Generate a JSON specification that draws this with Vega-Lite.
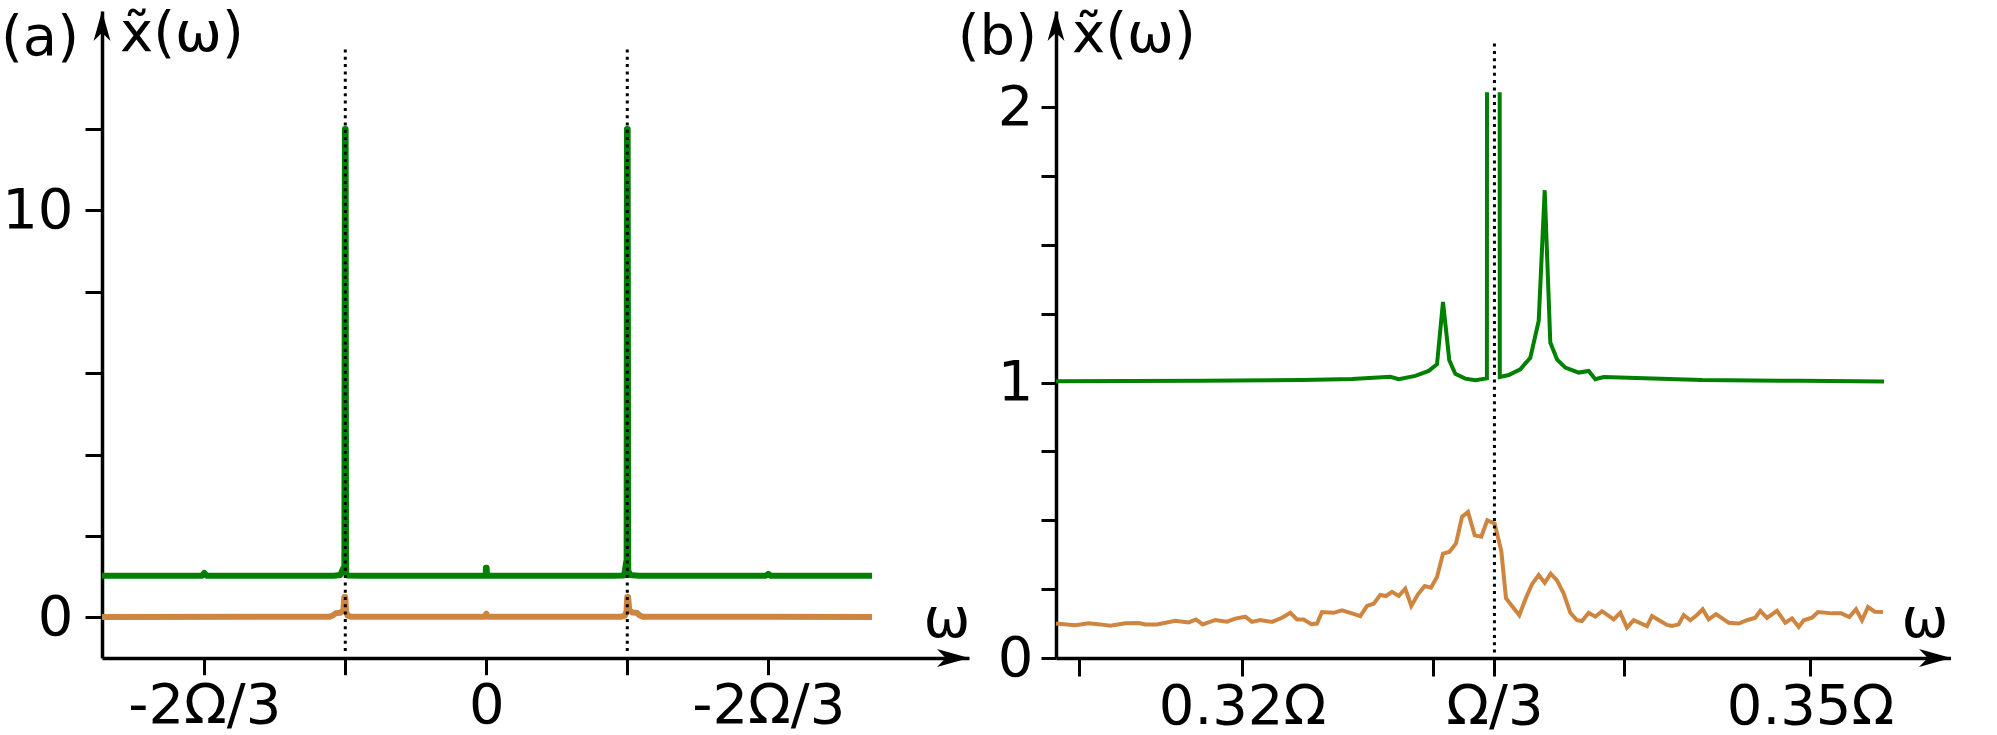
{
  "$schema": "https://vega.github.io/schema/vega-lite/v6.json",
  "background": "white",
  "padding": {"left": 0, "top": 6, "right": 0, "bottom": 0},
  "autosize": {"type": "pad"},
  "spacing": 87,
  "bounds": "flush",
  "config": {
    "view": {"stroke": null},
    "font": "DejaVu Sans",
    "axis": {"grid": false, "domainColor": "black", "domainWidth": 3.5, "tickColor": "black", "tickWidth": 3, "labelFont": "DejaVu Sans", "labelFontSize": 56, "labelColor": "black", "labelFlush": false, "labelOverlap": false, "labelBound": false}
  },
  "resolve": {"scale": {"x": "independent", "y": "independent"}},
  "datasets": {
    "curves_a": [
      {"w": -0.9085, "v": 1.02, "s": "green", "g": "ga"},
      {"w": -0.70, "v": 1.02, "s": "green", "g": "ga"},
      {"w": -0.672, "v": 1.02, "s": "green", "g": "ga"},
      {"w": -0.6667, "v": 1.09, "s": "green", "g": "ga"},
      {"w": -0.661, "v": 1.02, "s": "green", "g": "ga"},
      {"w": -0.36, "v": 1.02, "s": "green", "g": "ga"},
      {"w": -0.345, "v": 1.04, "s": "green", "g": "ga"},
      {"w": -0.3385, "v": 1.2, "s": "green", "g": "ga"},
      {"w": -0.3355, "v": 1.25, "s": "green", "g": "ga"},
      {"w": -0.3342, "v": 12.0, "s": "green", "g": "ga"},
      {"w": -0.3326, "v": 12.0, "s": "green", "g": "ga"},
      {"w": -0.3315, "v": 1.1, "s": "green", "g": "ga"},
      {"w": -0.329, "v": 1.03, "s": "green", "g": "ga"},
      {"w": -0.30, "v": 1.02, "s": "green", "g": "ga"},
      {"w": -0.0015, "v": 1.02, "s": "green", "g": "ga"},
      {"w": -0.0008, "v": 1.22, "s": "green", "g": "ga"},
      {"w": 0.0008, "v": 1.22, "s": "green", "g": "ga"},
      {"w": 0.0015, "v": 1.02, "s": "green", "g": "ga"},
      {"w": 0.30, "v": 1.02, "s": "green", "g": "ga"},
      {"w": 0.326, "v": 1.03, "s": "green", "g": "ga"},
      {"w": 0.3305, "v": 1.35, "s": "green", "g": "ga"},
      {"w": 0.3318, "v": 1.4, "s": "green", "g": "ga"},
      {"w": 0.3326, "v": 12.0, "s": "green", "g": "ga"},
      {"w": 0.3342, "v": 12.0, "s": "green", "g": "ga"},
      {"w": 0.3355, "v": 1.15, "s": "green", "g": "ga"},
      {"w": 0.34, "v": 1.04, "s": "green", "g": "ga"},
      {"w": 0.36, "v": 1.02, "s": "green", "g": "ga"},
      {"w": 0.661, "v": 1.02, "s": "green", "g": "ga"},
      {"w": 0.6667, "v": 1.07, "s": "green", "g": "ga"},
      {"w": 0.672, "v": 1.02, "s": "green", "g": "ga"},
      {"w": 0.912, "v": 1.02, "s": "green", "g": "ga"},
      {"w": -0.9085, "v": 0.01, "s": "orange", "g": "oa"},
      {"w": -0.37, "v": 0.015, "s": "orange", "g": "oa"},
      {"w": -0.362, "v": 0.05, "s": "orange", "g": "oa"},
      {"w": -0.356, "v": 0.1, "s": "orange", "g": "oa"},
      {"w": -0.345, "v": 0.11, "s": "orange", "g": "oa"},
      {"w": -0.338, "v": 0.18, "s": "orange", "g": "oa"},
      {"w": -0.3355, "v": 0.5, "s": "orange", "g": "oa"},
      {"w": -0.3335, "v": 0.5, "s": "orange", "g": "oa"},
      {"w": -0.3315, "v": 0.15, "s": "orange", "g": "oa"},
      {"w": -0.328, "v": 0.04, "s": "orange", "g": "oa"},
      {"w": -0.32, "v": 0.015, "s": "orange", "g": "oa"},
      {"w": -0.004, "v": 0.015, "s": "orange", "g": "oa"},
      {"w": 0.0, "v": 0.09, "s": "orange", "g": "oa"},
      {"w": 0.004, "v": 0.015, "s": "orange", "g": "oa"},
      {"w": 0.32, "v": 0.015, "s": "orange", "g": "oa"},
      {"w": 0.328, "v": 0.04, "s": "orange", "g": "oa"},
      {"w": 0.3315, "v": 0.15, "s": "orange", "g": "oa"},
      {"w": 0.3332, "v": 0.5, "s": "orange", "g": "oa"},
      {"w": 0.3352, "v": 0.5, "s": "orange", "g": "oa"},
      {"w": 0.338, "v": 0.18, "s": "orange", "g": "oa"},
      {"w": 0.345, "v": 0.12, "s": "orange", "g": "oa"},
      {"w": 0.356, "v": 0.11, "s": "orange", "g": "oa"},
      {"w": 0.362, "v": 0.05, "s": "orange", "g": "oa"},
      {"w": 0.37, "v": 0.015, "s": "orange", "g": "oa"},
      {"w": 0.912, "v": 0.01, "s": "orange", "g": "oa"}
    ],
    "dots_a": [
      {"w": -0.333333, "y1": -0.83, "y2": 14.0},
      {"w": 0.333333, "y1": -0.83, "y2": 14.0}
    ],
    "curves_b": [
      {"w": 0.310176, "v": 1.005, "s": "green", "g": "g1"},
      {"w": 0.317887, "v": 1.006, "s": "green", "g": "g1"},
      {"w": 0.323169, "v": 1.009, "s": "green", "g": "g1"},
      {"w": 0.325810, "v": 1.013, "s": "green", "g": "g1"},
      {"w": 0.327833, "v": 1.021, "s": "green", "g": "g1"},
      {"w": 0.328277, "v": 1.012, "s": "green", "g": "g1"},
      {"w": 0.329153, "v": 1.024, "s": "green", "g": "g1"},
      {"w": 0.329861, "v": 1.042, "s": "green", "g": "g1"},
      {"w": 0.330300, "v": 1.066, "s": "green", "g": "g1"},
      {"w": 0.330616, "v": 1.292, "s": "green", "g": "g1"},
      {"w": 0.330949, "v": 1.081, "s": "green", "g": "g1"},
      {"w": 0.331266, "v": 1.032, "s": "green", "g": "g1"},
      {"w": 0.331794, "v": 1.014, "s": "green", "g": "g1"},
      {"w": 0.332322, "v": 1.008, "s": "green", "g": "g1"},
      {"w": 0.332935, "v": 1.015, "s": "green", "g": "g1"},
      {"w": 0.332940, "v": 2.054, "s": "green", "g": "g1"},
      {"w": 0.333611, "v": 2.054, "s": "green", "g": "g2"},
      {"w": 0.333616, "v": 1.020, "s": "green", "g": "g2"},
      {"w": 0.334087, "v": 1.027, "s": "green", "g": "g2"},
      {"w": 0.334699, "v": 1.048, "s": "green", "g": "g2"},
      {"w": 0.335227, "v": 1.090, "s": "green", "g": "g2"},
      {"w": 0.335671, "v": 1.223, "s": "green", "g": "g2"},
      {"w": 0.335988, "v": 1.698, "s": "green", "g": "g2"},
      {"w": 0.336284, "v": 1.145, "s": "green", "g": "g2"},
      {"w": 0.336638, "v": 1.084, "s": "green", "g": "g2"},
      {"w": 0.337076, "v": 1.054, "s": "green", "g": "g2"},
      {"w": 0.337784, "v": 1.036, "s": "green", "g": "g2"},
      {"w": 0.338312, "v": 1.042, "s": "green", "g": "g2"},
      {"w": 0.338661, "v": 1.012, "s": "green", "g": "g2"},
      {"w": 0.339104, "v": 1.020, "s": "green", "g": "g2"},
      {"w": 0.344296, "v": 1.009, "s": "green", "g": "g2"},
      {"w": 0.349578, "v": 1.006, "s": "green", "g": "g2"},
      {"w": 0.353909, "v": 1.004, "s": "green", "g": "g2"},
      {"w": 0.310176, "v": 0.125, "s": "orange", "g": "o"},
      {"w": 0.311195, "v": 0.119, "s": "orange", "g": "o"},
      {"w": 0.311903, "v": 0.126, "s": "orange", "g": "o"},
      {"w": 0.312516, "v": 0.122, "s": "orange", "g": "o"},
      {"w": 0.313044, "v": 0.117, "s": "orange", "g": "o"},
      {"w": 0.313836, "v": 0.126, "s": "orange", "g": "o"},
      {"w": 0.314544, "v": 0.127, "s": "orange", "g": "o"},
      {"w": 0.314893, "v": 0.122, "s": "orange", "g": "o"},
      {"w": 0.315510, "v": 0.122, "s": "orange", "g": "o"},
      {"w": 0.316477, "v": 0.135, "s": "orange", "g": "o"},
      {"w": 0.317185, "v": 0.129, "s": "orange", "g": "o"},
      {"w": 0.317570, "v": 0.140, "s": "orange", "g": "o"},
      {"w": 0.317924, "v": 0.122, "s": "orange", "g": "o"},
      {"w": 0.318590, "v": 0.138, "s": "orange", "g": "o"},
      {"w": 0.319208, "v": 0.132, "s": "orange", "g": "o"},
      {"w": 0.319646, "v": 0.143, "s": "orange", "g": "o"},
      {"w": 0.320174, "v": 0.150, "s": "orange", "g": "o"},
      {"w": 0.320528, "v": 0.131, "s": "orange", "g": "o"},
      {"w": 0.320967, "v": 0.138, "s": "orange", "g": "o"},
      {"w": 0.321585, "v": 0.131, "s": "orange", "g": "o"},
      {"w": 0.322113, "v": 0.146, "s": "orange", "g": "o"},
      {"w": 0.322551, "v": 0.164, "s": "orange", "g": "o"},
      {"w": 0.322905, "v": 0.140, "s": "orange", "g": "o"},
      {"w": 0.323259, "v": 0.140, "s": "orange", "g": "o"},
      {"w": 0.323660, "v": 0.123, "s": "orange", "g": "o"},
      {"w": 0.323961, "v": 0.125, "s": "orange", "g": "o"},
      {"w": 0.324225, "v": 0.167, "s": "orange", "g": "o"},
      {"w": 0.324843, "v": 0.164, "s": "orange", "g": "o"},
      {"w": 0.325282, "v": 0.173, "s": "orange", "g": "o"},
      {"w": 0.325810, "v": 0.162, "s": "orange", "g": "o"},
      {"w": 0.326248, "v": 0.152, "s": "orange", "g": "o"},
      {"w": 0.326602, "v": 0.189, "s": "orange", "g": "o"},
      {"w": 0.326956, "v": 0.197, "s": "orange", "g": "o"},
      {"w": 0.327305, "v": 0.229, "s": "orange", "g": "o"},
      {"w": 0.327606, "v": 0.225, "s": "orange", "g": "o"},
      {"w": 0.327923, "v": 0.240, "s": "orange", "g": "o"},
      {"w": 0.328277, "v": 0.225, "s": "orange", "g": "o"},
      {"w": 0.328625, "v": 0.252, "s": "orange", "g": "o"},
      {"w": 0.328942, "v": 0.189, "s": "orange", "g": "o"},
      {"w": 0.329296, "v": 0.231, "s": "orange", "g": "o"},
      {"w": 0.329650, "v": 0.261, "s": "orange", "g": "o"},
      {"w": 0.329983, "v": 0.255, "s": "orange", "g": "o"},
      {"w": 0.330300, "v": 0.294, "s": "orange", "g": "o"},
      {"w": 0.330616, "v": 0.379, "s": "orange", "g": "o"},
      {"w": 0.330949, "v": 0.385, "s": "orange", "g": "o"},
      {"w": 0.331303, "v": 0.416, "s": "orange", "g": "o"},
      {"w": 0.331620, "v": 0.512, "s": "orange", "g": "o"},
      {"w": 0.331937, "v": 0.530, "s": "orange", "g": "o"},
      {"w": 0.332291, "v": 0.445, "s": "orange", "g": "o"},
      {"w": 0.332639, "v": 0.440, "s": "orange", "g": "o"},
      {"w": 0.332956, "v": 0.500, "s": "orange", "g": "o"},
      {"w": 0.333347, "v": 0.488, "s": "orange", "g": "o"},
      {"w": 0.333696, "v": 0.388, "s": "orange", "g": "o"},
      {"w": 0.333944, "v": 0.217, "s": "orange", "g": "o"},
      {"w": 0.334261, "v": 0.189, "s": "orange", "g": "o"},
      {"w": 0.334646, "v": 0.155, "s": "orange", "g": "o"},
      {"w": 0.335000, "v": 0.219, "s": "orange", "g": "o"},
      {"w": 0.335317, "v": 0.268, "s": "orange", "g": "o"},
      {"w": 0.335671, "v": 0.301, "s": "orange", "g": "o"},
      {"w": 0.335988, "v": 0.273, "s": "orange", "g": "o"},
      {"w": 0.336305, "v": 0.306, "s": "orange", "g": "o"},
      {"w": 0.336638, "v": 0.282, "s": "orange", "g": "o"},
      {"w": 0.336992, "v": 0.234, "s": "orange", "g": "o"},
      {"w": 0.337340, "v": 0.164, "s": "orange", "g": "o"},
      {"w": 0.337694, "v": 0.137, "s": "orange", "g": "o"},
      {"w": 0.337958, "v": 0.134, "s": "orange", "g": "o"},
      {"w": 0.338312, "v": 0.164, "s": "orange", "g": "o"},
      {"w": 0.338661, "v": 0.150, "s": "orange", "g": "o"},
      {"w": 0.339014, "v": 0.170, "s": "orange", "g": "o"},
      {"w": 0.339632, "v": 0.140, "s": "orange", "g": "o"},
      {"w": 0.339981, "v": 0.164, "s": "orange", "g": "o"},
      {"w": 0.340335, "v": 0.110, "s": "orange", "g": "o"},
      {"w": 0.340689, "v": 0.137, "s": "orange", "g": "o"},
      {"w": 0.341391, "v": 0.116, "s": "orange", "g": "o"},
      {"w": 0.341655, "v": 0.152, "s": "orange", "g": "o"},
      {"w": 0.342094, "v": 0.134, "s": "orange", "g": "o"},
      {"w": 0.342448, "v": 0.120, "s": "orange", "g": "o"},
      {"w": 0.342712, "v": 0.116, "s": "orange", "g": "o"},
      {"w": 0.343066, "v": 0.122, "s": "orange", "g": "o"},
      {"w": 0.343330, "v": 0.156, "s": "orange", "g": "o"},
      {"w": 0.343679, "v": 0.137, "s": "orange", "g": "o"},
      {"w": 0.344032, "v": 0.156, "s": "orange", "g": "o"},
      {"w": 0.344333, "v": 0.177, "s": "orange", "g": "o"},
      {"w": 0.344650, "v": 0.140, "s": "orange", "g": "o"},
      {"w": 0.345036, "v": 0.159, "s": "orange", "g": "o"},
      {"w": 0.345706, "v": 0.128, "s": "orange", "g": "o"},
      {"w": 0.346235, "v": 0.125, "s": "orange", "g": "o"},
      {"w": 0.346673, "v": 0.137, "s": "orange", "g": "o"},
      {"w": 0.347111, "v": 0.146, "s": "orange", "g": "o"},
      {"w": 0.347376, "v": 0.171, "s": "orange", "g": "o"},
      {"w": 0.347729, "v": 0.146, "s": "orange", "g": "o"},
      {"w": 0.348258, "v": 0.171, "s": "orange", "g": "o"},
      {"w": 0.348696, "v": 0.128, "s": "orange", "g": "o"},
      {"w": 0.349050, "v": 0.144, "s": "orange", "g": "o"},
      {"w": 0.349404, "v": 0.113, "s": "orange", "g": "o"},
      {"w": 0.349668, "v": 0.137, "s": "orange", "g": "o"},
      {"w": 0.350106, "v": 0.146, "s": "orange", "g": "o"},
      {"w": 0.350423, "v": 0.167, "s": "orange", "g": "o"},
      {"w": 0.351163, "v": 0.162, "s": "orange", "g": "o"},
      {"w": 0.351654, "v": 0.162, "s": "orange", "g": "o"},
      {"w": 0.352077, "v": 0.149, "s": "orange", "g": "o"},
      {"w": 0.352430, "v": 0.177, "s": "orange", "g": "o"},
      {"w": 0.352747, "v": 0.137, "s": "orange", "g": "o"},
      {"w": 0.353064, "v": 0.185, "s": "orange", "g": "o"},
      {"w": 0.353418, "v": 0.168, "s": "orange", "g": "o"},
      {"w": 0.353856, "v": 0.167, "s": "orange", "g": "o"}
    ],
    "dots_b": [
      {"w": 0.333333, "y1": 0.02, "y2": 2.24}
    ],
    "one": [{}]
  },
  "hconcat": [
    {
      "width": 867,
      "height": 647,
      "layer": [
        {
          "data": {"name": "curves_a"},
          "mark": {"type": "line", "strokeWidth": 6, "strokeJoin": "round"},
          "encoding": {
            "x": {"field": "w", "type": "quantitative",
              "scale": {"domain": [-0.9085, 1.1412], "nice": false, "zero": false},
              "axis": {"title": null, "values": [-0.6666667, -0.3333333, 0, 0.3333333, 0.6666667],
                "labelExpr": "abs(datum.value) < 0.01 ? '0' : (abs(datum.value) > 0.5 ? '-2Ω/3' : '')",
                "tickSize": 16.7, "labelPadding": 4}},
            "y": {"field": "v", "type": "quantitative",
              "scale": {"domain": [-1, 14.9], "nice": false, "zero": false},
              "axis": {"title": null, "values": [0, 2, 4, 6, 8, 10, 12],
                "labelExpr": "datum.value == 0 ? '0' : (datum.value == 10 ? '10' : '')",
                "tickSize": 17, "labelPadding": 12,
                "encode": {"ticks": {"update": {"x2": {"signal": "(datum.value == 0 || datum.value == 10) ? -17 : -10"}}}}}},
            "color": {"field": "s", "type": "nominal", "scale": {"domain": ["green", "orange"], "range": ["#008000", "#CD853F"]}, "legend": null},
            "detail": {"field": "g"}
          }
        },
        {
          "data": {"name": "dots_a"},
          "mark": {"type": "rule", "color": "black", "strokeWidth": 3, "strokeDash": [3, 4.3]},
          "encoding": {
            "x": {"field": "w", "type": "quantitative"},
            "y": {"field": "y1", "type": "quantitative"},
            "y2": {"field": "y2"}
          }
        },
        {
          "data": {"name": "one"},
          "mark": {"type": "point", "shape": "M0,0L-2,-0.5625L-1.45,0L-2,0.5625Z", "filled": true, "color": "black", "opacity": 1, "size": 1024, "strokeWidth": 0},
          "encoding": {"x": {"datum": 1.1412}, "y": {"datum": -1}}
        },
        {
          "data": {"name": "one"},
          "mark": {"type": "point", "shape": "M0,0L-0.5625,2L0,1.45L0.5625,2Z", "filled": true, "color": "black", "opacity": 1, "size": 900, "strokeWidth": 0},
          "encoding": {"x": {"datum": -0.9085}, "y": {"datum": 14.9}}
        },
        {
          "data": {"name": "one"},
          "mark": {"type": "text", "text": "(a)", "align": "right", "baseline": "alphabetic", "dx": -23, "dy": 44, "fontSize": 56, "font": "DejaVu Sans", "color": "black"},
          "encoding": {"x": {"datum": -0.9085}, "y": {"datum": 14.9}}
        },
        {
          "data": {"name": "one"},
          "mark": {"type": "text", "text": "x̃(ω)", "align": "left", "baseline": "alphabetic", "dx": 18, "dy": 40, "fontSize": 56, "font": "DejaVu Sans", "color": "black"},
          "encoding": {"x": {"datum": -0.9085}, "y": {"datum": 14.9}}
        },
        {
          "data": {"name": "one"},
          "mark": {"type": "text", "text": "ω", "align": "center", "baseline": "alphabetic", "dx": -22, "dy": -21, "fontSize": 56, "font": "DejaVu Sans", "color": "black"},
          "encoding": {"x": {"datum": 1.1412}, "y": {"datum": -1}}
        }
      ]
    },
    {
      "width": 895,
      "height": 647,
      "layer": [
        {
          "data": {"name": "curves_b"},
          "mark": {"type": "line", "strokeWidth": 4},
          "encoding": {
            "x": {"field": "w", "type": "quantitative",
              "scale": {"domain": [0.310176, 0.357448], "nice": false, "zero": false},
              "axis": {"title": null, "values": [0.311391, 0.32, 0.330088, 0.3333333, 0.340176, 0.35],
                "labelExpr": "abs(datum.value - 0.32) < 0.0001 ? '0.32Ω' : (abs(datum.value - 0.3333333) < 0.0001 ? 'Ω/3' : (abs(datum.value - 0.35) < 0.0001 ? '0.35Ω' : ''))",
                "tickSize": 18, "labelPadding": 3,
                "encode": {"ticks": {"update": {"y2": {"signal": "(abs(datum.value - 0.32) < 0.0001 || abs(datum.value - 0.3333333) < 0.0001 || abs(datum.value - 0.35) < 0.0001) ? 18 : 10"}}}}}},
            "y": {"field": "v", "type": "quantitative",
              "scale": {"domain": [0, 2.3485], "nice": false, "zero": false},
              "axis": {"title": null, "values": [0, 0.25, 0.5, 0.75, 1, 1.25, 1.5, 1.75, 2],
                "labelExpr": "datum.value == 0 ? '0' : (datum.value == 1 ? '1' : (datum.value == 2 ? '2' : ''))",
                "tickSize": 15, "labelPadding": 8,
                "encode": {"ticks": {"update": {"x2": {"signal": "(datum.value == 0 || datum.value == 1 || datum.value == 2) ? -15 : -7"}}}}}},
            "color": {"field": "s", "type": "nominal", "scale": {"domain": ["green", "orange"], "range": ["#008000", "#CD853F"]}, "legend": null},
            "detail": {"field": "g"}
          }
        },
        {
          "data": {"name": "dots_b"},
          "mark": {"type": "rule", "color": "black", "strokeWidth": 3, "strokeDash": [3, 4.3]},
          "encoding": {
            "x": {"field": "w", "type": "quantitative"},
            "y": {"field": "y1", "type": "quantitative"},
            "y2": {"field": "y2"}
          }
        },
        {
          "data": {"name": "one"},
          "mark": {"type": "point", "shape": "M0,0L-2,-0.5625L-1.45,0L-2,0.5625Z", "filled": true, "color": "black", "opacity": 1, "size": 1024, "strokeWidth": 0},
          "encoding": {"x": {"datum": 0.357448}, "y": {"datum": 0}}
        },
        {
          "data": {"name": "one"},
          "mark": {"type": "point", "shape": "M0,0L-0.5625,2L0,1.45L0.5625,2Z", "filled": true, "color": "black", "opacity": 1, "size": 900, "strokeWidth": 0},
          "encoding": {"x": {"datum": 0.310176}, "y": {"datum": 2.3485}}
        },
        {
          "data": {"name": "one"},
          "mark": {"type": "text", "text": "(b)", "align": "right", "baseline": "alphabetic", "dx": -19, "dy": 43, "fontSize": 56, "font": "DejaVu Sans", "color": "black"},
          "encoding": {"x": {"datum": 0.310176}, "y": {"datum": 2.3485}}
        },
        {
          "data": {"name": "one"},
          "mark": {"type": "text", "text": "x̃(ω)", "align": "left", "baseline": "alphabetic", "dx": 16, "dy": 41, "fontSize": 56, "font": "DejaVu Sans", "color": "black"},
          "encoding": {"x": {"datum": 0.310176}, "y": {"datum": 2.3485}}
        },
        {
          "data": {"name": "one"},
          "mark": {"type": "text", "text": "ω", "align": "center", "baseline": "alphabetic", "dx": -26, "dy": -21, "fontSize": 56, "font": "DejaVu Sans", "color": "black"},
          "encoding": {"x": {"datum": 0.357448}, "y": {"datum": 0}}
        }
      ]
    }
  ]
}
